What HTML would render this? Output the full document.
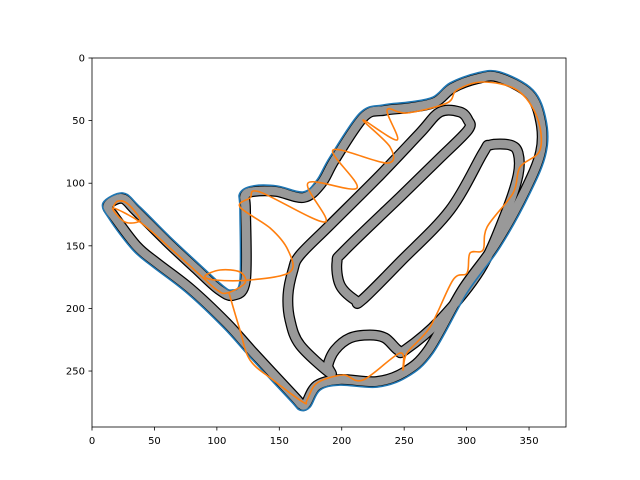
<!DOCTYPE html>
<html><head><meta charset="utf-8"><style>
html,body{margin:0;padding:0;background:#fff;}
svg{display:block;font-family:"DejaVu Sans","Liberation Sans",sans-serif;}
</style></head><body>
<svg id="chart" width="640" height="480" viewBox="0 0 640 480">
<defs><clipPath id="clip"><rect x="92" y="58" width="474" height="369"/></clipPath></defs>
<rect x="0" y="0" width="640" height="480" fill="#fff"/>
<g id="plot" clip-path="url(#clip)"></g>
<g id="axes"></g>
</svg>
<script>
const xTicks=[0,50,100,150,200,250,300,350];
const yTicks=[0,50,100,150,200,250];
const outerBoundary=[[8.8,115.8],[24.8,107.8],[38.4,119],[62.5,142.9],[86.5,165.3],[104.1,181.3],[112,185.3],[118.5,177.3],[118.5,121.4],[118.5,107.8],[128.9,102.2],[148.2,102.2],[169,107],[180.2,97.4],[190.6,79.1],[214.6,43.9],[233.1,37.5],[254.7,35.1],[273.1,31.2],[286.7,20],[308.3,12],[326.8,11.2],[353.2,25.6],[363.6,49.5],[363.6,75.9],[350.8,107.8],[326.8,151],[300.3,187.7],[273.1,235.6],[252.3,254.8],[228.3,262.8],[198.6,261.2],[182.6,265.2],[174.6,278.8],[166.6,281.2],[158.6,273.2],[126.5,238.8],[104.9,214.9],[76.1,187.7],[48.9,166.9],[32.8,153.4],[14.4,129.4]];
const innerBoundary=[[190.6,251.6],[166.6,229.2],[158.6,209.3],[157,189.3],[161,169.3],[166.6,157.3],[190.6,133.4],[230.7,93.5],[262.7,59.9],[278.7,43.1],[294.7,43.1],[301.1,49.5],[301.1,57.5],[278.7,79.9],[246.7,111],[202.6,153.4],[196.2,162.9],[198.7,181.3],[210.6,193.3],[216.2,193.3],[246.7,162.9],[286.7,121.4],[313.1,75.9],[318.8,69.5],[334.8,69.5],[341.2,75.9],[341.2,93.5],[330.8,125.4],[310.7,169.3],[278.7,209.3],[250.7,233.2],[245,233.2],[234.7,223.6],[222.6,221.2],[206.6,223.6],[194.6,233.2],[189,245.2]];
const racingLine=[[16.8,119],[20.8,114.2],[28.8,116.6],[38.4,129.4],[26.4,131],[16.8,119.8],[38.4,131],[62.5,151.8],[86.5,173.3],[100.1,185.3],[108.1,187.7],[122.5,179.7],[118.5,170.9],[102.5,169.3],[90.5,174.1],[98.5,177.3],[126.5,177.3],[158.6,170.9],[157,153.4],[142.6,135.8],[118.5,119],[126.5,111.8],[134.5,107],[186.6,131],[173,99.8],[212.2,103.8],[193,73.5],[236.3,83.9],[238.7,71.1],[217,49.5],[244.3,65.5],[236.3,41.5],[252.3,43.9],[284.3,35.9],[292.3,25.6],[313.1,19.2],[340.4,25.6],[356.4,47.1],[358.8,73.5],[342.8,87.1],[337.2,107.8],[316.4,135],[313.1,153.4],[302.7,155.8],[300.3,171.7],[289.1,177.3],[270.7,214.9],[252.3,235.6],[249.1,249.2],[246.7,235.6],[217,257.2],[201,253.2],[180.2,259.6],[172.2,273.2],[169,274.8],[145,257.2],[126.5,241.2],[118.5,217.3],[109.7,187.7]];

const NS="http://www.w3.org/2000/svg";
const X0=92,X1=566,Y0=58,Y1=427,XMAX=379.6,YMAX=294.7;
const sx=v=>X0+v*(X1-X0)/XMAX;
const sy=v=>Y0+v*(Y1-Y0)/YMAX;
function toPx(pts){return pts.map(q=>[sx(q[0]),sy(q[1])]);}
function offsetPx(p,d){
  const n=p.length;
  return p.map((q,i)=>{
    const a=p[(i-1+n)%n],b=p[(i+1)%n];
    let tx=b[0]-a[0],ty=b[1]-a[1];const L=Math.hypot(tx,ty)||1;tx/=L;ty/=L;
    return [q[0]-ty*d,q[1]+tx*d];
  });
}
function pathFromPx(p,closed){
  const n=p.length;
  const get=i=>closed?p[(i+n)%n]:p[Math.max(0,Math.min(n-1,i))];
  let d="M"+p[0][0].toFixed(1)+","+p[0][1].toFixed(1);
  const segs=closed?n:n-1;
  for(let i=0;i<segs;i++){
    const a=get(i-1),b=get(i),c2=get(i+1),e=get(i+2);
    const c1x=b[0]+(c2[0]-a[0])/6,c1y=b[1]+(c2[1]-a[1])/6;
    const c3x=c2[0]-(e[0]-b[0])/6,c3y=c2[1]-(e[1]-b[1])/6;
    d+=" C"+c1x.toFixed(1)+","+c1y.toFixed(1)+" "+c3x.toFixed(1)+","+c3y.toFixed(1)+" "+c2[0].toFixed(1)+","+c2[1].toFixed(1);
  }
  return d+(closed?" Z":"");
}
const plot=document.getElementById('plot');
function addPath(d,stroke,w){
  const el=document.createElementNS(NS,'path');
  el.setAttribute('d',d);el.setAttribute('fill','none');el.setAttribute('stroke',stroke);
  el.setAttribute('stroke-width',w);el.setAttribute('stroke-linejoin','round');
  plot.appendChild(el);return el;
}
const outerGray=pathFromPx(offsetPx(toPx(outerBoundary),5.5),true);
const innerGray=pathFromPx(toPx(innerBoundary),true);
let e;
e=addPath(outerGray,'#000',11);


e=addPath(innerGray,'#000',11);


e=addPath(outerGray,'#999',8.5);


e=addPath(innerGray,'#999',8.5);


e=addPath(pathFromPx(toPx(outerBoundary),true),'#1f77b4',1.6);


e=addPath(pathFromPx(toPx(racingLine),false),'#ff7f0e',1.6);



const axes=document.getElementById('axes');
const fr=document.createElementNS(NS,'rect');
fr.setAttribute('x',X0);fr.setAttribute('y',Y0);fr.setAttribute('width',X1-X0);fr.setAttribute('height',Y1-Y0);
fr.setAttribute('fill','none');fr.setAttribute('stroke','#000');fr.setAttribute('stroke-width','0.8');


axes.appendChild(fr);
xTicks.forEach(t=>{
  const x=sx(t);
  const l=document.createElementNS(NS,'line');
  l.setAttribute('x1',x);l.setAttribute('x2',x);l.setAttribute('y1',Y1);l.setAttribute('y2',Y1+3.5);l.setAttribute('stroke','#000');l.setAttribute('stroke-width','0.8');
  
  
  axes.appendChild(l);
  const tx=document.createElementNS(NS,'text');
  tx.setAttribute('x',x);tx.setAttribute('y',Y1+17);tx.setAttribute('text-anchor','middle');tx.setAttribute('font-size','10');
  tx.textContent=t;
  
  
  axes.appendChild(tx);
});
yTicks.forEach(t=>{
  const y=sy(t);
  const l=document.createElementNS(NS,'line');
  l.setAttribute('x1',X0-3.5);l.setAttribute('x2',X0);l.setAttribute('y1',y);l.setAttribute('y2',y);l.setAttribute('stroke','#000');l.setAttribute('stroke-width','0.8');
  
  
  axes.appendChild(l);
  const tx=document.createElementNS(NS,'text');
  tx.setAttribute('x',X0-7);tx.setAttribute('y',y+3.5);tx.setAttribute('text-anchor','end');tx.setAttribute('font-size','10');
  tx.textContent=t;
  
  
  axes.appendChild(tx);
});
</script>
</body></html>
